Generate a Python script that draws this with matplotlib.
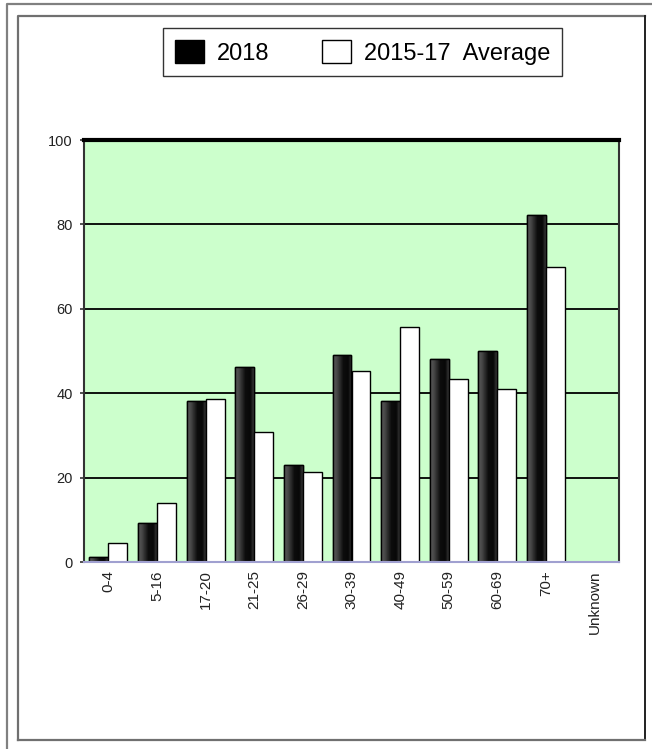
import numpy as np
import matplotlib
matplotlib.use("Agg")
import matplotlib.pyplot as plt
from matplotlib.colors import LinearSegmentedColormap
from matplotlib.patches import Patch
from matplotlib.lines import Line2D

plt.rcParams['font.family'] = ['Liberation Sans', 'DejaVu Sans']

# values
age_groups = ['0-4', '5-16', '17-20', '21-25', '26-29', '30-39', '40-49',
              '50-59', '60-69', '70+', 'Unknown']
deaths_2018 = [1.3, 9.2, 38.2, 46.1, 22.9, 49.1, 38.2, 48.0, 49.9, 82.2, 0]
avg_2015_17 = [4.4, 13.9, 38.6, 30.9, 21.4, 45.3, 55.6, 43.3, 40.9, 69.9, 0]
y_ticks = [0, 20, 40, 60, 80, 100]
series_names = ['2018', '2015-17  Average']

W, H = 652, 749
fig = plt.figure(figsize=(W / 100, H / 100), dpi=100)
fig.patch.set_facecolor('white')

# outer and inner frames (pixel coords -> figure fraction)
def px_line(xs, ys, color, lw):
    fig.add_artist(Line2D([x / W for x in xs], [1 - y / H for y in ys],
                          transform=fig.transFigure, color=color, lw=lw))

px_line([7, 7, W], [H, 4, 4], '#808080', 1.6)
px_line([18, 18, 645], [740, 16, 16], '#707070', 1.6)
px_line([645, 645], [16, 740], '#202020', 1.4)
px_line([18, 645], [740, 740], '#707070', 1.6)

ax = fig.add_axes([84 / W, 1 - 562 / H, (619 - 84) / W, (562 - 140) / H])
ax.set_facecolor('#ccffcc')

x = np.arange(len(age_groups))
bw = 0.39
d18 = np.array(deaths_2018, dtype=float)
dav = np.array(avg_2015_17, dtype=float)
m18 = d18 > 0
mav = dav > 0

# grey-to-black shading of the 2018 bars
grey_black = LinearSegmentedColormap.from_list(
    'gb', [(0.0, '#5a5a5a'), (0.2, '#484848'), (0.55, '#0c0c0c'),
           (0.82, '#080808'), (1.0, '#3a3a3a')])
grad = np.linspace(0, 1, 64).reshape(1, -1)

bars18 = ax.bar(x[m18] - bw / 2, d18[m18], width=bw, color='black',
                edgecolor='black', lw=1.0, zorder=3)
for b in bars18:
    im = ax.imshow(grad, extent=[b.get_x(), b.get_x() + b.get_width(), 0, b.get_height()],
                   cmap=grey_black, aspect='auto', zorder=3.5, interpolation='bilinear')
    im.set_clip_path(b)
ax.bar(x[m18] - bw / 2, d18[m18], width=bw, fill=False,
       edgecolor='black', lw=1.0, zorder=4)
ax.bar(x[mav] + bw / 2, dav[mav], width=bw, color='white',
       edgecolor='black', lw=1.0, zorder=4)

ax.set_xlim(-0.5, len(age_groups) - 0.5)
ax.set_ylim(0, 100)
ax.set_aspect('auto')

ax.set_yticks(y_ticks)
ax.set_yticklabels([str(v) for v in y_ticks], fontsize=10.5, color='#222222')
ax.set_xticks(x)
ax.set_xticklabels(age_groups, rotation=90, fontsize=11, color='#222222', va='top')
ax.tick_params(axis='x', length=0, pad=6)
ax.tick_params(axis='y', length=3, width=1.2, color='#333333', pad=5)

ax.yaxis.grid(True, color='black', lw=1.3)
ax.set_axisbelow(True)
ax.spines['top'].set_color('black')
ax.spines['top'].set_linewidth(3)
ax.spines['left'].set_color('#333333')
ax.spines['left'].set_linewidth(1.5)
ax.spines['right'].set_color('#333333')
ax.spines['right'].set_linewidth(1.5)
ax.spines['bottom'].set_color('#a0a0d0')
ax.spines['bottom'].set_linewidth(1.5)
ax.spines['bottom'].set_zorder(5)

handles = [Patch(facecolor='black', edgecolor='black', lw=1.0),
           Patch(facecolor='white', edgecolor='black', lw=1.0)]
leg = fig.legend(handles, series_names, loc='upper left',
                 bbox_to_anchor=(163 / W, 1 - 28 / H), ncol=2, fontsize=17,
                 frameon=True, fancybox=False, shadow=False,
                 handlelength=1.25, handleheight=1.15, handletextpad=0.55,
                 columnspacing=2.2, borderpad=0.5, borderaxespad=0)
leg.get_frame().set_edgecolor('black')
leg.get_frame().set_linewidth(1.0)

fig.savefig('out.png', dpi=100, facecolor='white')
